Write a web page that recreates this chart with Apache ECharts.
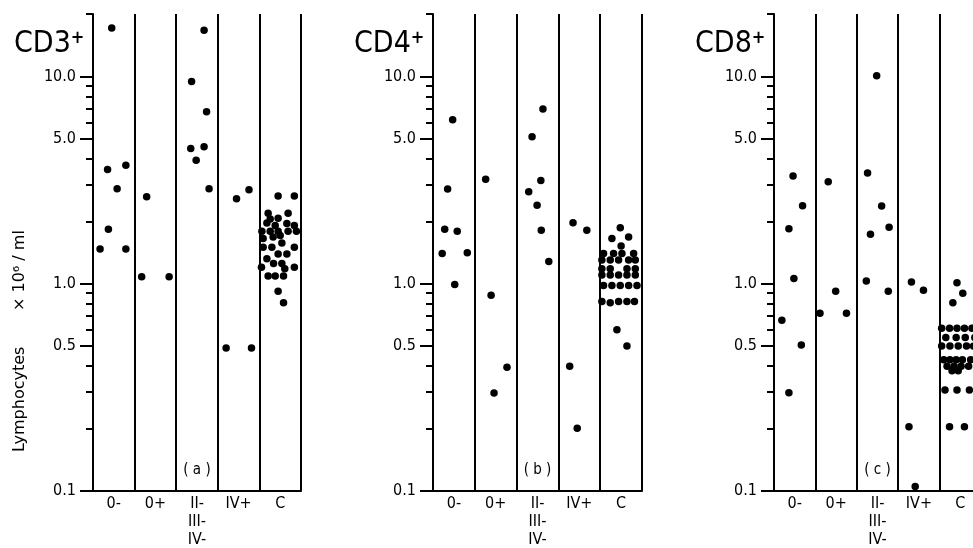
<!DOCTYPE html>
<html>
<head>
<meta charset="utf-8">
<script src="https://cdn.jsdelivr.net/npm/echarts@6/dist/echarts.min.js"></script>
<style>
  html, body { margin: 0; padding: 0; background: #fff; }
  #chart { width: 973px; height: 548px; }
</style>
</head>
<body>
<div id="chart"></div>
<script>
// groups along x, one band per group (band i spans i..i+1)
const groups = ['0-', '0+', 'II-\nIII-\nIV-', 'IV+', 'C'];
const groupCenters = [0.5, 1.5, 2.5, 3.5, 4.5];
const majorTicks = [0.1, 0.5, 1, 5, 10];
const minorTicks = [0.2, 0.3, 0.4, 0.6, 0.7, 0.8, 0.9, 2, 3, 4, 6, 7, 8, 9, 20];
const panelNames = ['CD3', 'CD4', 'CD8'];
const panelTags = ['( a )', '( b )', '( c )'];

// [position inside the group bands, lymphocytes x 10^6/ml]
const cd3 = [
  [0.45, 17.1], [0.35, 3.56], [0.79, 3.73], [0.58, 2.87], [0.37, 1.83], [0.17, 1.47], [0.79, 1.47],
  [1.29, 2.63], [1.17, 1.08], [1.83, 1.08],
  [2.67, 16.7], [2.37, 9.45], [2.73, 6.76], [2.35, 4.49], [2.67, 4.58], [2.48, 3.94], [2.79, 2.87],
  [3.45, 2.57], [3.75, 2.84], [3.20, 0.49], [3.81, 0.49],
  [4.45, 2.65], [4.84, 2.65], [4.21, 2.19], [4.69, 2.19], [4.45, 2.07], [4.26, 2.05], [4.18, 1.96],
  [4.38, 1.91], [4.66, 1.95], [4.84, 1.91], [4.06, 1.79], [4.26, 1.79], [4.45, 1.79], [4.69, 1.79],
  [4.89, 1.79], [4.50, 1.71], [4.33, 1.68], [4.09, 1.65], [4.54, 1.57], [4.09, 1.50], [4.30, 1.50],
  [4.84, 1.50], [4.45, 1.39], [4.66, 1.39], [4.18, 1.32], [4.34, 1.25], [4.54, 1.25], [4.05, 1.20],
  [4.84, 1.20], [4.61, 1.18], [4.21, 1.09], [4.38, 1.09], [4.58, 1.09], [4.45, 0.92], [4.58, 0.81]
];
const cd4 = [
  [0.47, 6.18], [0.35, 2.86], [0.28, 1.83], [0.58, 1.79], [0.22, 1.40], [0.82, 1.41], [0.52, 0.99],
  [1.26, 3.19], [1.39, 0.88], [1.77, 0.395], [1.46, 0.297],
  [2.63, 6.96], [2.37, 5.11], [2.58, 3.15], [2.29, 2.78], [2.49, 2.39], [2.59, 1.81], [2.77, 1.28],
  [3.35, 1.97], [3.68, 1.81], [3.27, 0.40], [3.45, 0.201],
  [4.48, 1.86], [4.28, 1.65], [4.68, 1.68], [4.50, 1.52],
  [4.08, 1.40], [4.32, 1.40], [4.52, 1.40], [4.80, 1.40],
  [4.04, 1.30], [4.24, 1.30], [4.44, 1.30], [4.68, 1.30], [4.84, 1.30],
  [4.04, 1.18], [4.24, 1.18], [4.64, 1.18], [4.84, 1.18],
  [4.04, 1.10], [4.24, 1.10], [4.44, 1.10], [4.64, 1.10], [4.84, 1.10],
  [4.08, 0.98], [4.28, 0.98], [4.48, 0.98], [4.68, 0.98], [4.88, 0.98],
  [4.04, 0.82], [4.24, 0.81], [4.44, 0.82], [4.64, 0.82], [4.82, 0.82],
  [4.40, 0.60], [4.64, 0.50]
];
const cd8 = [
  [0.46, 3.31], [0.69, 2.38], [0.36, 1.84], [0.48, 1.06], [0.19, 0.667], [0.66, 0.506], [0.36, 0.298],
  [1.31, 3.10], [1.49, 0.92], [1.11, 0.72], [1.75, 0.72],
  [2.48, 10.07], [2.26, 3.42], [2.60, 2.37], [2.78, 1.87], [2.33, 1.73], [2.23, 1.03], [2.76, 0.92],
  [3.32, 1.02], [3.61, 0.93], [3.26, 0.204], [3.41, 0.105],
  [4.42, 1.01], [4.56, 0.90], [4.32, 0.81],
  [4.05, 0.61], [4.24, 0.61], [4.42, 0.61], [4.60, 0.61], [4.78, 0.61],
  [4.15, 0.55], [4.40, 0.55], [4.62, 0.55], [4.85, 0.55],
  [4.05, 0.50], [4.25, 0.50], [4.45, 0.50], [4.65, 0.50], [4.82, 0.50],
  [4.10, 0.43], [4.25, 0.43], [4.40, 0.43], [4.55, 0.43], [4.75, 0.43],
  [4.18, 0.40], [4.35, 0.40], [4.52, 0.40], [4.70, 0.40],
  [4.30, 0.38], [4.45, 0.38],
  [4.13, 0.307], [4.42, 0.307], [4.72, 0.307],
  [4.24, 0.204], [4.60, 0.204]
];

const panels = [cd3, cd4, cd8];
const boxes = [
  { left: 93, width: 208 },
  { left: 433, width: 209 },
  { left: 774, width: 207 }
];
const black = '#000';
const narrow = '"Liberation Sans Narrow", "DejaVu Sans Condensed", sans-serif';

let grid = [];
let xAxis = [];
let yAxis = [];
let series = [];
let graphic = [];

panels.forEach((pts, i) => {
  grid.push({
    left: boxes[i].left,
    width: boxes[i].width,
    top: 14,
    bottom: 57,
    containLabel: false,
    outerBoundsMode: 'none'
  });
  xAxis.push({
    gridIndex: i,
    type: 'value',
    min: 0,
    max: 5,
    interval: 1,
    axisLine: { lineStyle: { color: black, width: 2 } },
    axisTick: { show: false },
    splitLine: { show: true, lineStyle: { color: black, width: 2 } },
    axisLabel: {
      customValues: groupCenters,
      formatter: v => groups[Math.floor(v)],
      color: black,
      fontFamily: narrow,
      fontSize: 16,
      lineHeight: 18,
      margin: 4
    }
  });
  // major ticks + labels
  yAxis.push({
    gridIndex: i,
    type: 'log',
    logBase: 10,
    min: 0.1,
    max: 20,
    position: 'left',
    axisLine: { show: true, lineStyle: { color: black, width: 2 } },
    axisTick: { show: true, customValues: majorTicks, length: 13, lineStyle: { color: black, width: 2 } },
    axisLabel: {
      customValues: majorTicks,
      formatter: v => v.toFixed(1),
      color: black,
      fontFamily: narrow,
      fontSize: 16,
      margin: 17
    },
    splitLine: { show: false }
  });
  // minor ticks
  yAxis.push({
    gridIndex: i,
    type: 'log',
    logBase: 10,
    min: 0.1,
    max: 20,
    position: 'left',
    axisLine: { show: false },
    axisTick: { show: true, customValues: minorTicks, length: 7, lineStyle: { color: black, width: 2 } },
    axisLabel: { show: false },
    splitLine: { show: false }
  });
  series.push({
    type: 'scatter',
    xAxisIndex: i,
    yAxisIndex: 2 * i,
    data: pts,
    symbol: 'circle',
    symbolSize: 7.5,
    itemStyle: { color: black, opacity: 1 },
    silent: true
  });

  graphic.push({
    type: 'text',
    x: boxes[i].left - 79,
    y: 44,
    style: {
      text: panelNames[i] + '{s|+}',
      fill: black,
      font: '30px ' + narrow,
      verticalAlign: 'middle',
      rich: { s: { fontSize: 18, fontFamily: narrow, fontWeight: 'bold', fill: black, verticalAlign: 'top' } }
    }
  });
  graphic.push({
    type: 'text',
    x: boxes[i].left + boxes[i].width / 2,
    y: 470,
    style: {
      text: panelTags[i],
      fill: black,
      font: '15px ' + narrow,
      align: 'center',
      verticalAlign: 'middle'
    }
  });
});

graphic.push({
  type: 'text',
  x: 20,
  y: 341,
  rotation: Math.PI / 2,
  style: {
    text: 'Lymphocytes       \u00d7 10\u2076 / ml',
    fill: black,
    font: '16px "DejaVu Sans", sans-serif',
    align: 'center',
    verticalAlign: 'middle'
  }
});

const chart = echarts.init(document.getElementById('chart'));
chart.setOption({
  animation: false,
  backgroundColor: '#fff',
  grid: grid,
  xAxis: xAxis,
  yAxis: yAxis,
  series: series,
  graphic: graphic
});
</script>
</body>
</html>
